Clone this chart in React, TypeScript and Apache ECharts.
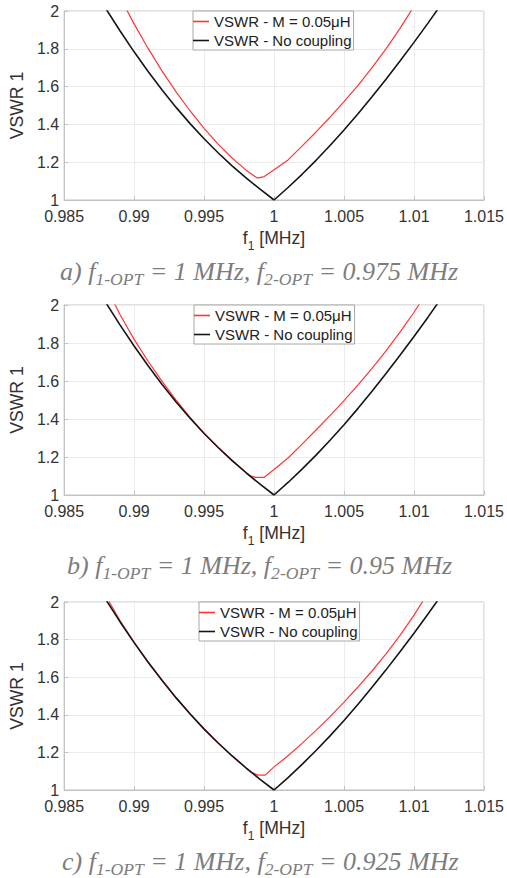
import React, { useEffect, useRef } from 'react';
import * as echarts from 'echarts';

// ---- tick labels ----
const xTickLabels = ['0.985', '0.99', '0.995', '1', '1.005', '1.01', '1.015'];
const yTickLabels = ['1', '1.2', '1.4', '1.6', '1.8', '2'];

// ---- legend / series names ----
const seriesNames = ['VSWR - M = 0.05μH', 'VSWR - No coupling'];

// ---- "No coupling" curve (same in all three panels) ----
const freqNoCoupling = [0.988, 0.989, 0.990, 0.991, 0.992, 0.993, 0.994, 0.995, 0.996, 0.997, 0.998, 0.999, 1.000,
  1.001, 1.002, 1.003, 1.004, 1.005, 1.006, 1.007, 1.008, 1.009, 1.010, 1.011, 1.012];
const vswrNoCoupling = [2.010, 1.894, 1.784, 1.680, 1.582, 1.490, 1.404, 1.324, 1.250, 1.181, 1.117, 1.057, 1.0,
  1.066, 1.136, 1.210, 1.288, 1.370, 1.456, 1.546, 1.639, 1.735, 1.834, 1.936, 2.041];

// ---- coupled curve, panel a (f2-OPT = 0.975 MHz) ----
const freqCoupledA = [0.989, 0.990, 0.991, 0.992, 0.993, 0.994, 0.995, 0.996, 0.997, 0.998, 0.9988, 0.9993, 1.000,
  1.001, 1.002, 1.003, 1.004, 1.005, 1.006, 1.007, 1.008, 1.009, 1.010];
const vswrCoupledA = [2.072, 1.932, 1.802, 1.682, 1.572, 1.471, 1.379, 1.296, 1.222, 1.158, 1.116, 1.124, 1.160,
  1.212, 1.285, 1.360, 1.438, 1.520, 1.607, 1.700, 1.800, 1.908, 2.025];

// ---- coupled curve, panel b (f2-OPT = 0.95 MHz) ----
const freqCoupledB = [0.988, 0.989, 0.990, 0.991, 0.992, 0.993, 0.994, 0.995, 0.996, 0.997, 0.998, 0.9983, 0.9987, 0.9993,
  1.000, 1.001, 1.002, 1.003, 1.004, 1.005, 1.006, 1.007, 1.008, 1.009, 1.010, 1.011];
const vswrCoupledB = [2.095, 1.949, 1.819, 1.704, 1.598, 1.499, 1.408, 1.326, 1.252, 1.183, 1.119, 1.101, 1.093, 1.093,
  1.134, 1.195, 1.268, 1.342, 1.418, 1.497, 1.580, 1.667, 1.759, 1.857, 1.962, 2.074];

// ---- coupled curve, panel c (f2-OPT = 0.925 MHz) ----
const freqCoupledC = [0.988, 0.989, 0.990, 0.991, 0.992, 0.993, 0.994, 0.995, 0.996, 0.997, 0.998, 0.9984, 0.99885, 0.99937,
  1.000, 1.001, 1.002, 1.003, 1.004, 1.005, 1.006, 1.007, 1.008, 1.009, 1.010, 1.011];
const vswrCoupledC = [2.030, 1.900, 1.786, 1.682, 1.584, 1.492, 1.406, 1.326, 1.252, 1.183, 1.119, 1.094, 1.079, 1.079,
  1.123, 1.182, 1.248, 1.317, 1.390, 1.467, 1.548, 1.633, 1.724, 1.822, 1.930, 2.048];

// ---- captions ----
const panelTags = ['a)', 'b)', 'c)'];
const f1Opt = ['1', '1', '1'];
const f2Opt = ['0.975', '0.95', '0.925'];

const coupledFreqs = [freqCoupledA, freqCoupledB, freqCoupledC];
const coupledVswr = [vswrCoupledA, vswrCoupledB, vswrCoupledC];

// layout (pixels)
const layout = [
  { top: 11, height: 189, legendLeft: 193, legendTop: 11, captionX: 60, captionY: 273 },
  { top: 305, height: 190, legendLeft: 194, legendTop: 305, captionX: 67, captionY: 567 },
  { top: 602, height: 188, legendLeft: 199, legendTop: 602, captionX: 62, captionY: 863 },
];

const SANS = "'Liberation Sans', Arial, Helvetica, sans-serif";
const SERIF = "'Liberation Serif', 'Times New Roman', serif";
const TXT = '#333333';
const AXIS = '#c2c2c2';
const RED = '#ff3535';
const BLACK = '#151515';
const CAP = '#7d7d7d';

const X_MIN = parseFloat(xTickLabels[0]);
const X_MAX = parseFloat(xTickLabels[xTickLabels.length - 1]);
const X_INT = parseFloat(xTickLabels[1]) - parseFloat(xTickLabels[0]);
const Y_MIN = parseFloat(yTickLabels[0]);
const Y_MAX = parseFloat(yTickLabels[yTickLabels.length - 1]);
const Y_INT = parseFloat(yTickLabels[1]) - parseFloat(yTickLabels[0]);

const zip = (xs: number[], ys: number[]) => xs.map((x, i) => [x, ys[i]]);

export default function App() {
  const ref = useRef<HTMLDivElement>(null);

  useEffect(() => {
    if (!ref.current) return;
    const chart = echarts.init(ref.current, null, { renderer: 'svg' });

    const grid = layout.map((p) => ({
      left: 59,
      width: 425,
      top: p.top,
      height: p.height,
      show: true,
      borderColor: AXIS,
      borderWidth: 1,
      backgroundColor: '#ffffff',
    }));

    const xAxis = layout.map((_, i) => ({
      type: 'value',
      gridIndex: i,
      min: X_MIN,
      max: X_MAX,
      interval: X_INT,
      axisLine: { show: true, onZero: false, lineStyle: { color: AXIS, width: 1 } },
      axisTick: { show: true, inside: true, length: 4, lineStyle: { color: AXIS } },
      splitLine: { show: true, lineStyle: { color: '#ececec', width: 1 } },
      axisLabel: {
        fontSize: 16,
        fontFamily: SANS,
        color: TXT,
        margin: 8,
        formatter: (v: number) => xTickLabels[Math.round((v - X_MIN) / X_INT)] ?? '',
      },
      name: '{f|f}{s|1}{f| [MHz]}',
      nameLocation: 'middle',
      nameGap: 29,
      nameTextStyle: {
        rich: {
          f: { fontSize: 17.6, fontFamily: SANS, color: TXT, verticalAlign: 'bottom', padding: [0, 0, 5, 0] },
          s: { fontSize: 12, fontFamily: SANS, color: TXT, verticalAlign: 'bottom' },
        },
      },
    }));

    const yAxis = layout.map((_, i) => ({
      type: 'value',
      gridIndex: i,
      min: Y_MIN,
      max: Y_MAX,
      interval: Y_INT,
      axisLine: { show: true, onZero: false, lineStyle: { color: AXIS, width: 1 } },
      axisTick: { show: true, inside: true, length: 4, lineStyle: { color: AXIS } },
      splitLine: { show: true, lineStyle: { color: '#ececec', width: 1 } },
      axisLabel: {
        fontSize: 16,
        fontFamily: SANS,
        color: TXT,
        margin: 5,
        formatter: (v: number) => yTickLabels[Math.round((v - Y_MIN) / Y_INT)] ?? '',
      },
      name: 'VSWR 1',
      nameLocation: 'middle',
      nameRotate: 90,
      nameGap: 27,
      nameTextStyle: { fontSize: 17.6, fontFamily: SANS, color: TXT },
    }));

    const series: any[] = [];
    layout.forEach((_, i) => {
      series.push({
        type: 'line',
        name: seriesNames[0],
        xAxisIndex: i,
        yAxisIndex: i,
        data: zip(coupledFreqs[i], coupledVswr[i]),
        showSymbol: false,
        symbol: 'none',
        clip: true,
        silent: true,
        lineStyle: { color: RED, width: 1.2 },
        itemStyle: { color: RED },
        z: 2,
      });
      series.push({
        type: 'line',
        name: seriesNames[1],
        xAxisIndex: i,
        yAxisIndex: i,
        data: zip(freqNoCoupling, vswrNoCoupling),
        showSymbol: false,
        symbol: 'none',
        clip: true,
        silent: true,
        lineStyle: { color: BLACK, width: 1.6 },
        itemStyle: { color: BLACK },
        z: 3,
      });
    });

    const legend = layout.map((p) => ({
      orient: 'vertical',
      left: p.legendLeft,
      top: p.legendTop,
      data: seriesNames,
      icon: 'rect',
      itemWidth: 16,
      itemHeight: 1.6,
      itemGap: 4,
      padding: [3, 2, 2, 0],
      borderColor: '#a8a8a8',
      borderWidth: 1,
      backgroundColor: '#ffffff',
      selectedMode: false,
      textStyle: { fontSize: 15, fontFamily: SANS, color: '#222222' },
    }));

    const capRich = {
      n: { fontSize: 26, fontFamily: SERIF, fontStyle: 'italic', fill: CAP, verticalAlign: 'bottom', padding: [0, 0, 3, 0] },
      s: { fontSize: 17.6, fontFamily: SERIF, fontStyle: 'italic', fill: CAP, verticalAlign: 'bottom' },
    };

    const graphic = layout.map((p, i) => ({
      type: 'text',
      x: p.captionX,
      y: p.captionY,
      silent: true,
      style: {
        text: `{n|${panelTags[i]} f}{s|1-OPT}{n| = ${f1Opt[i]} MHz, f}{s|2-OPT}{n| = ${f2Opt[i]} MHz}`,
        rich: capRich,
        align: 'left',
        verticalAlign: 'middle',
        textAlign: 'left',
        textVerticalAlign: 'middle',
        fill: CAP,
      },
    }));

    chart.setOption({
      animation: false,
      backgroundColor: '#ffffff',
      grid,
      xAxis,
      yAxis,
      series,
      legend,
      graphic,
    } as any);

    return () => chart.dispose();
  }, []);

  return (
    <div
      ref={ref}
      style={{ position: 'absolute', left: 0, top: 0, width: 507, height: 878, background: '#ffffff' }}
    />
  );
}
